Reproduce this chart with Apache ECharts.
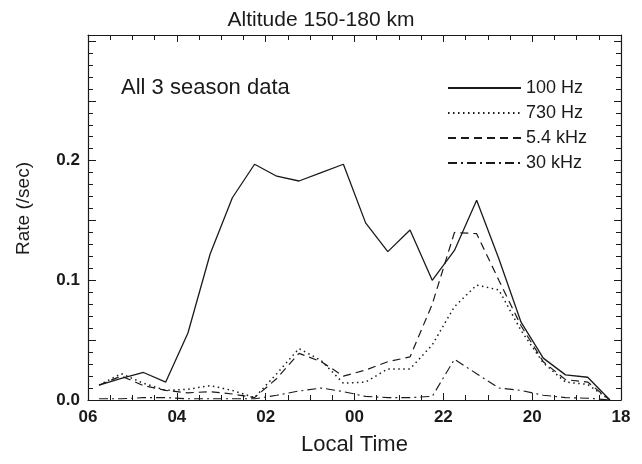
<!DOCTYPE html>
<html>
<head>
<meta charset="utf-8">
<script src="https://cdn.jsdelivr.net/npm/echarts@6/dist/echarts.min.js"></script>
<style>
  html, body { margin: 0; padding: 0; background: #fff; }
  #chart { width: 642px; height: 464px; }
</style>
</head>
<body>
<div id="chart"></div>
<script>
// hours counted from 06 LT backwards through midnight towards 18 LT
const hoursFrom06 = [0.25, 0.75, 1.25, 1.75, 2.25, 2.75, 3.25, 3.75, 4.25, 4.75, 5.25, 5.75,
                     6.25, 6.75, 7.25, 7.75, 8.25, 8.75, 9.25, 9.75, 10.25, 10.75, 11.25, 11.75];
const rate100Hz = [0.0125, 0.018, 0.023, 0.015, 0.056, 0.122, 0.169, 0.197, 0.187, 0.183, 0.190, 0.197,
                   0.148, 0.124, 0.142, 0.100, 0.125, 0.167, 0.118, 0.065, 0.035, 0.021, 0.019, 0.0];
const rate730Hz = [0.0125, 0.022, 0.014, 0.008, 0.009, 0.012, 0.008, 0.002, 0.022, 0.043, 0.033, 0.014,
                   0.015, 0.026, 0.026, 0.046, 0.078, 0.096, 0.092, 0.058, 0.031, 0.015, 0.013, 0.0];
const rate5k4Hz = [0.0125, 0.020, 0.012, 0.008, 0.006, 0.007, 0.005, 0.002, 0.018, 0.039, 0.032, 0.020,
                   0.025, 0.032, 0.036, 0.080, 0.140, 0.139, 0.100, 0.062, 0.032, 0.017, 0.015, 0.0];
const rate30kHz = [0.001, 0.001, 0.002, 0.002, 0.001, 0.001, 0.001, 0.001, 0.004, 0.0075, 0.010, 0.007,
                   0.003, 0.002, 0.002, 0.003, 0.034, 0.022, 0.010, 0.008, 0.004, 0.002, 0.0015, 0.0];
const seriesNames = ['100 Hz', '730 Hz', '5.4 kHz', '30 kHz'];

const font = 'Liberation Sans';
const ink = '#1a1a1a';

function pairs(vals) {
    return hoursFrom06.map((h, i) => [h, vals[i]]);
}

const myChart = echarts.init(document.getElementById('chart'));

// mirrored axes on top / right only draw the frame and inward ticks
const frameAxis = {
    axisLine: { show: true, onZero: false, lineStyle: { color: ink, width: 1.2 } },
    axisTick: { show: true, inside: true, length: 7, lineStyle: { color: ink, width: 1 } },
    splitLine: { show: false },
    axisLabel: { show: false }
};

const option = {
    backgroundColor: '#fff',
    animation: false,
    textStyle: { fontFamily: font, color: ink },
    title: [
        {
            text: 'Altitude 150-180 km',
            left: 'center',
            top: 5,
            textStyle: { fontSize: 21, fontWeight: 'normal', color: ink, fontFamily: font }
        },
        {
            text: 'All 3 season data',
            left: 116,
            top: 72,
            textStyle: { fontSize: 22, fontWeight: 'normal', color: ink, fontFamily: font }
        }
    ],
    legend: {
        orient: 'vertical',
        left: 442,
        top: 73,
        itemWidth: 73,
        itemHeight: 14,
        itemGap: 5,
        data: seriesNames,
        itemStyle: { opacity: 0 },
        textStyle: { fontSize: 18, color: ink, fontFamily: font, lineHeight: 20 }
    },
    grid: { left: 88, right: 21, top: 35, bottom: 64, containLabel: false },
    xAxis: [
        {
            type: 'value',
            min: 0,
            max: 12,
            interval: 2,
            position: 'bottom',
            name: 'Local Time',
            nameLocation: 'middle',
            nameGap: 34,
            nameTextStyle: { fontSize: 22, color: ink, fontFamily: font },
            axisLine: { show: true, onZero: false, lineStyle: { color: ink, width: 1.2 } },
            axisTick: { show: true, inside: true, length: 7, lineStyle: { color: ink, width: 1 } },
            minorTick: { show: true, splitNumber: 4, length: 5, lineStyle: { color: ink, width: 1 } },
            splitLine: { show: false },
            axisLabel: {
                fontSize: 17,
                fontWeight: 'bold',
                color: ink,
                margin: 9,
                formatter: function (h) {
                    const t = (((6 - h) % 24) + 24) % 24;
                    return String(t).padStart(2, '0');
                }
            }
        },
        Object.assign({
            type: 'value', min: 0, max: 12, interval: 2, position: 'top',
            minorTick: { show: true, splitNumber: 4, length: 5, lineStyle: { color: ink, width: 1 } }
        }, frameAxis)
    ],
    yAxis: [
        {
            type: 'value',
            min: 0,
            max: 0.305,
            interval: 0.05,
            position: 'left',
            name: 'Rate (/sec)',
            nameLocation: 'middle',
            nameGap: 55,
            nameTextStyle: { fontSize: 19, color: ink, fontFamily: font, padding: [0, 0, 0, 18] },
            axisLine: { show: true, onZero: false, lineStyle: { color: ink, width: 1.2 } },
            axisTick: { show: true, inside: true, length: 8, lineStyle: { color: ink, width: 1 } },
            minorTick: { show: true, splitNumber: 5, length: 5, lineStyle: { color: ink, width: 1 } },
            splitLine: { show: false },
            axisLabel: {
                fontSize: 17,
                fontWeight: 'bold',
                color: ink,
                margin: 8,
                formatter: function (v) {
                    const k = Math.round(v * 10);
                    if (Math.abs(v * 10 - k) > 1e-6 || v > 0.25) return '';
                    return v.toFixed(1);
                }
            }
        },
        Object.assign({
            type: 'value', min: 0, max: 0.305, interval: 0.05, position: 'right',
            minorTick: { show: true, splitNumber: 5, length: 5, lineStyle: { color: ink, width: 1 } }
        }, frameAxis)
    ],
    series: [
        {
            name: seriesNames[0], type: 'line', symbol: 'none', data: pairs(rate100Hz),
            itemStyle: { color: ink },
            lineStyle: { color: ink, width: 1.3, type: 'solid' }
        },
        {
            name: seriesNames[1], type: 'line', symbol: 'none', data: pairs(rate730Hz),
            itemStyle: { color: ink },
            lineStyle: { color: ink, width: 1.5, type: [1.5, 3.5] }
        },
        {
            name: seriesNames[2], type: 'line', symbol: 'none', data: pairs(rate5k4Hz),
            itemStyle: { color: ink },
            lineStyle: { color: ink, width: 1.2, type: [8, 5] }
        },
        {
            name: seriesNames[3], type: 'line', symbol: 'none', data: pairs(rate30kHz),
            itemStyle: { color: ink },
            lineStyle: { color: ink, width: 1.1, type: [9, 4, 2, 4] }
        }
    ]
};

myChart.setOption(option);
</script>
</body>
</html>
